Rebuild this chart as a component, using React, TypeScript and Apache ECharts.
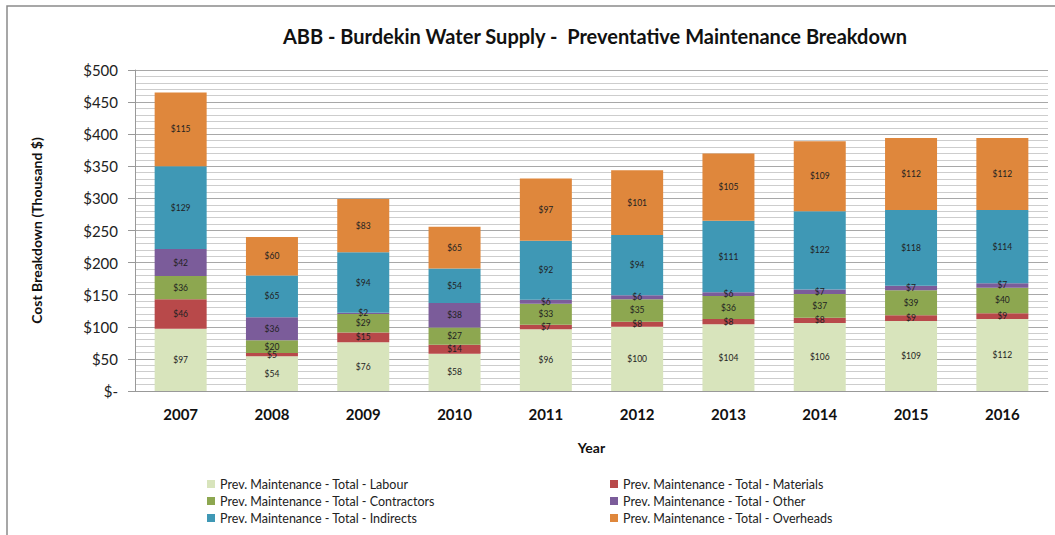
import React, { useEffect, useRef } from "react";
import * as echarts from "echarts";

const years = ["2007", "2008", "2009", "2010", "2011", "2012", "2013", "2014", "2015", "2016"];
const labour = [97, 54, 76, 58, 96, 100, 104, 106, 109, 112];
const materials = [46, 5, 15, 14, 7, 8, 8, 8, 9, 9];
const contractors = [36, 20, 29, 27, 33, 35, 36, 37, 39, 40];
const other = [42, 36, 2, 38, 6, 6, 6, 7, 7, 7];
const indirects = [129, 65, 94, 54, 92, 94, 111, 122, 118, 114];
const overheads = [115, 60, 83, 65, 97, 101, 105, 109, 112, 112];

const seriesNames = [
  "Prev. Maintenance - Total - Labour",
  "Prev. Maintenance - Total - Materials",
  "Prev. Maintenance - Total - Contractors",
  "Prev. Maintenance - Total - Other",
  "Prev. Maintenance - Total - Indirects",
  "Prev. Maintenance - Total - Overheads",
];
const seriesData = [labour, materials, contractors, other, indirects, overheads];
const colors = ["#d8e4bc", "#b8494a", "#8da750", "#7b5c9a", "#3f98b5", "#df873c"];

const FONT = "Lato, 'Open Sans', sans-serif";

export default function App() {
  const ref = useRef<HTMLDivElement>(null);
  useEffect(() => {
    if (!ref.current) return;
    const chart = echarts.init(ref.current, null, { renderer: "svg" });
    const legendText = { fontFamily: FONT, fontSize: 12.5, color: "#222", lineHeight: 14 };
    const legendBase = {
      orient: "vertical",
      top: 472,
      height: 62,
      itemWidth: 8,
      itemHeight: 8,
      itemGap: 3,
      icon: "rect",
      textStyle: legendText,
    };
    chart.setOption({
      animation: false,
      backgroundColor: "#fff",
      title: {
        text: "ABB - Burdekin Water Supply -  Preventative Maintenance Breakdown",
        left: 590,
        textAlign: "center",
        top: 21,
        textStyle: { fontFamily: FONT, fontSize: 20, fontWeight: "bold", color: "#111" },
      },
      graphic: [
        {
          type: "rect",
          shape: { x: 7, y: 6, width: 1200, height: 700 },
          style: { fill: "none", stroke: "#8a8a8a", lineWidth: 1.5 },
          silent: true,
        },
      ],
      legend: [
        { ...legendBase, left: 202, data: [seriesNames[0], seriesNames[2], seriesNames[4]] },
        { ...legendBase, left: 605, data: [seriesNames[1], seriesNames[3], seriesNames[5]] },
      ],
      grid: { left: 135, right: 7, top: 70, bottom: 144, containLabel: false },
      xAxis: {
        type: "category",
        data: years,
        name: "Year",
        nameLocation: "middle",
        nameGap: 49,
        nameTextStyle: { fontFamily: FONT, fontSize: 14, fontWeight: "bold", color: "#111" },
        axisLine: { lineStyle: { color: "#999", width: 1 } },
        axisTick: { show: false },
        axisLabel: { fontFamily: FONT, fontSize: 15, fontWeight: "bold", color: "#111", margin: 15 },
      },
      yAxis: {
        type: "value",
        min: 0,
        max: 500,
        interval: 50,
        name: "Cost Breakdown (Thousand $)",
        nameLocation: "middle",
        nameGap: 92,
        nameTextStyle: { fontFamily: FONT, fontSize: 14, fontWeight: "bold", color: "#111" },
        axisLine: { show: true, lineStyle: { color: "#999" } },
        axisTick: { show: true, length: 7, lineStyle: { color: "#999" } },
        axisLabel: {
          fontFamily: FONT,
          fontSize: 15,
          color: "#222",
          margin: 17,
          formatter: (v: number) => (v === 0 ? "$-" : "$" + v),
        },
        splitLine: { show: true, lineStyle: { color: "#a8a8a8", width: 1 } },
        minorTick: { show: false, splitNumber: 5 },
        minorSplitLine: { show: true, lineStyle: { color: "#cdcdcd", width: 1 } },
      },
      series: seriesNames.map((name, i) => ({
        name,
        type: "bar",
        stack: "total",
        barWidth: 52,
        data: seriesData[i],
        itemStyle: { color: colors[i] },
        label: {
          show: true,
          position: "inside",
          formatter: (p: any) => "$" + p.value,
          fontFamily: FONT,
          fontSize: 8.5,
          color: "#222",
        },
      })),
    });
    return () => chart.dispose();
  }, []);
  return (
    <div
      ref={ref}
      style={{ position: "fixed", left: 0, top: 0, width: 1055, height: 535 }}
    />
  );
}
